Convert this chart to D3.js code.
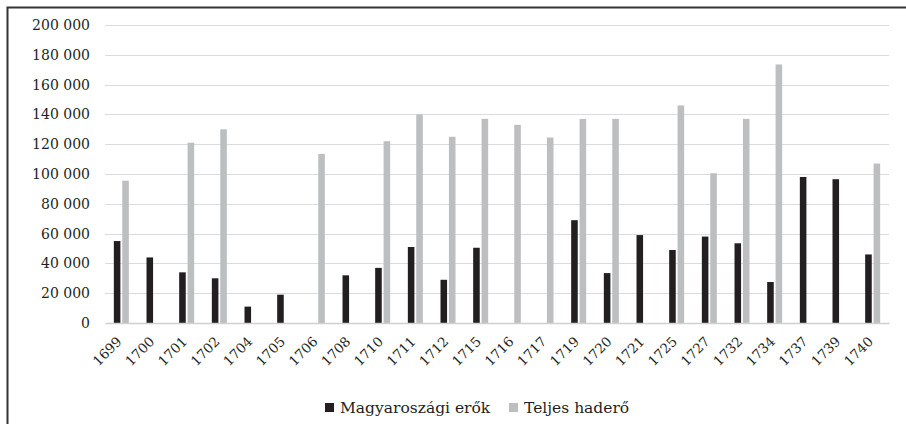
<!DOCTYPE html>
<html>
<head>
<meta charset="utf-8">
<script src="https://cdn.jsdelivr.net/npm/d3@7"></script>
<style>
  body { margin: 0; background: #fff; }
  svg { display: block; }
</style>
</head>
<body>
<script>
// years on the x axis
const years = ['1699', '1700', '1701', '1702', '1704', '1705', '1706', '1708', '1710', '1711',
  '1712', '1715', '1716', '1717', '1719', '1720', '1721', '1725', '1727', '1732', '1734',
  '1737', '1739', '1740'];

// Magyarországi erők (0 = no bar)
const hungarian = [55000, 44000, 34000, 30000, 11000, 19000, 0, 32000, 37000, 51000,
  29000, 50500, 0, 0, 69000, 33500, 59000, 49000, 58000, 53500, 27500,
  98000, 96500, 46000];

// Teljes haderő
const total = [95500, 0, 121000, 130000, 0, 0, 113500, 0, 122000, 140000,
  125000, 137000, 133000, 124500, 137000, 137000, 0, 146000, 100500, 137000, 173500,
  0, 0, 107000];

const yTicks = [0, 20000, 40000, 60000, 80000, 100000, 120000, 140000, 160000, 180000, 200000];
const seriesNames = ['Magyaroszági erők', 'Teljes haderő'];
const colors = ['#231f20', '#bcbec0'];

const width = 906, height = 424;
const margin = { left: 105, right: 17, top: 25, bottom: 101 };
const font = '"DejaVu Serif", serif';

const svg = d3.select('body').append('svg')
  .attr('width', width)
  .attr('height', height);

// frame (top and left edges only)
svg.append('path')
  .attr('d', `M7.5,${height} V7.5 H${width}`)
  .attr('fill', 'none')
  .attr('stroke', '#333')
  .attr('stroke-width', 2);

const x = d3.scaleBand()
  .domain(years)
  .range([margin.left, width - margin.right]);

const x1 = d3.scaleBand()
  .domain([0, 1])
  .range([0, x.bandwidth()])
  .paddingInner(0.22)
  .paddingOuter(1.05);

const y = d3.scaleLinear()
  .domain([0, 200000])
  .range([height - margin.bottom, margin.top]);

const fmt = d => d3.format(',')(d).replace(/,/g, ' ');

// grid lines
svg.append('g')
  .selectAll('line')
  .data(yTicks.slice(1))
  .join('line')
  .attr('x1', margin.left)
  .attr('x2', width - margin.right)
  .attr('y1', d => Math.round(y(d)) + 0.5)
  .attr('y2', d => Math.round(y(d)) + 0.5)
  .attr('stroke', '#dcdcdc')
  .attr('stroke-width', 1.2);

// y axis labels
const yAxis = svg.append('g')
  .attr('transform', `translate(${margin.left},0)`)
  .call(d3.axisLeft(y).tickValues(yTicks).tickFormat(fmt).tickSize(0).tickPadding(15));
yAxis.select('.domain').remove();
yAxis.selectAll('text')
  .attr('font-family', font)
  .attr('font-size', 14)
  .attr('fill', '#231f20');

// bars
const series = [hungarian, total];
series.forEach((vals, s) => {
  svg.append('g')
    .selectAll('rect')
    .data(years.map((yr, i) => ({ yr, v: vals[i] })).filter(d => d.v > 0))
    .join('rect')
    .attr('x', d => x(d.yr) + x1(s))
    .attr('y', d => y(d.v))
    .attr('width', x1.bandwidth())
    .attr('height', d => y(0) - y(d.v))
    .attr('fill', colors[s]);
});

// x axis
const xAxis = svg.append('g')
  .attr('transform', `translate(0,${y(0)})`)
  .call(d3.axisBottom(x).tickSize(0));
xAxis.select('.domain')
  .attr('stroke', '#d0d0d0')
  .attr('stroke-width', 1.5);
xAxis.selectAll('text')
  .attr('font-family', font)
  .attr('font-size', 13.5)
  .attr('fill', '#231f20')
  .attr('text-anchor', 'end')
  .attr('x', 0)
  .attr('y', 0)
  .attr('dy', '0.35em')
  .attr('transform', 'translate(-2,16) rotate(-45)');

// legend
const legend = svg.append('g');
const legendItems = [
  { name: seriesNames[0], color: colors[0], x: 325 },
  { name: seriesNames[1], color: colors[1], x: 509 }
];
legendItems.forEach(it => {
  legend.append('rect')
    .attr('x', it.x)
    .attr('y', 403)
    .attr('width', 9)
    .attr('height', 9)
    .attr('fill', it.color);
  legend.append('text')
    .attr('x', it.x + 15)
    .attr('y', 413)
    .attr('font-family', font)
    .attr('font-size', 15.5)
    .attr('fill', '#231f20')
    .text(it.name);
});
</script>
</body>
</html>
